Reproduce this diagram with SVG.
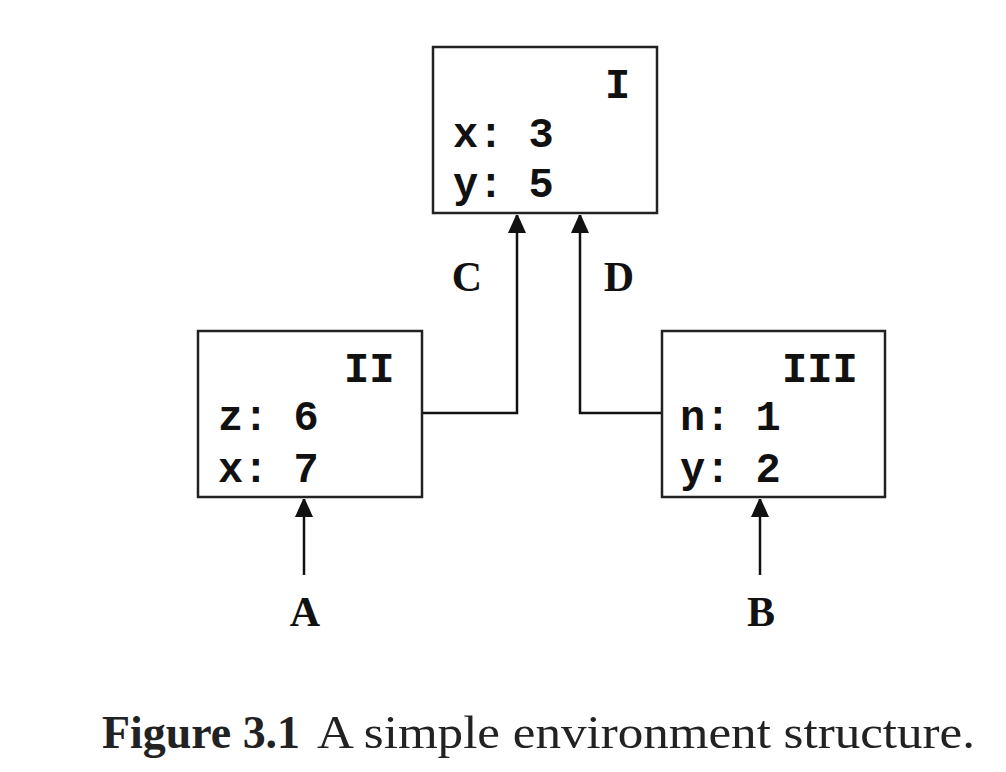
<svg xmlns="http://www.w3.org/2000/svg" width="1006" height="772" viewBox="0 0 1006 772">
<style>
.box{fill:#fff;stroke:#222;stroke-width:2.5}
.mono{font-family:"Liberation Mono","Courier New",monospace;font-weight:bold;font-size:42px;fill:#111}
.lbl{font-family:"Liberation Serif","Times New Roman",serif;font-weight:bold;font-size:42px;fill:#111;text-anchor:middle}
.edge{fill:none;stroke:#111;stroke-width:2.5}
.cap{font-family:"Liberation Serif","Times New Roman",serif;font-size:46px;fill:#222}
</style>
<defs>
<marker id="arr" viewBox="0 0 18 20" refX="18" refY="9" markerWidth="18" markerHeight="20" markerUnits="userSpaceOnUse" orient="auto">
<path d="M0,0 L20,9 L0,18 Z" fill="#111"/>
</marker>
</defs>
<rect width="1006" height="772" fill="#fff"/>
<g id="connectors">
<path class="edge" d="M422,413 H517 V215" marker-end="url(#arr)"/>
<path class="edge" d="M662,413 H580 V215" marker-end="url(#arr)"/>
<path class="edge" d="M304,575 V499" marker-end="url(#arr)"/>
<path class="edge" d="M760,575 V499" marker-end="url(#arr)"/>
</g>
<g id="node-I">
<rect class="box" x="433" y="47" width="224" height="166"/>
<text class="mono" x="605" y="98">I</text>
<text class="mono" x="453" y="147" xml:space="preserve">x: 3</text>
<text class="mono" x="453" y="197" xml:space="preserve">y: 5</text>
</g>
<g id="node-II">
<rect class="box" x="198" y="331" width="224" height="166"/>
<text class="mono" x="344" y="382">II</text>
<text class="mono" x="218" y="430" xml:space="preserve">z: 6</text>
<text class="mono" x="218" y="482" xml:space="preserve">x: 7</text>
</g>
<g id="node-III">
<rect class="box" x="662" y="331" width="223" height="166"/>
<text class="mono" x="782" y="382">III</text>
<text class="mono" x="680" y="430" xml:space="preserve">n: 1</text>
<text class="mono" x="680" y="482" xml:space="preserve">y: 2</text>
</g>
<g id="labels">
<text class="lbl" x="467" y="291">C</text>
<text class="lbl" x="619" y="291">D</text>
<text class="lbl" x="305" y="626">A</text>
<text class="lbl" x="761" y="626">B</text>
</g>
<g id="caption">
<text class="cap" x="102" y="748" font-weight="bold" textLength="198" lengthAdjust="spacingAndGlyphs">Figure 3.1</text>
<text class="cap" x="317" y="748" textLength="658" lengthAdjust="spacingAndGlyphs">A simple environment structure.</text>
</g>
</svg>
